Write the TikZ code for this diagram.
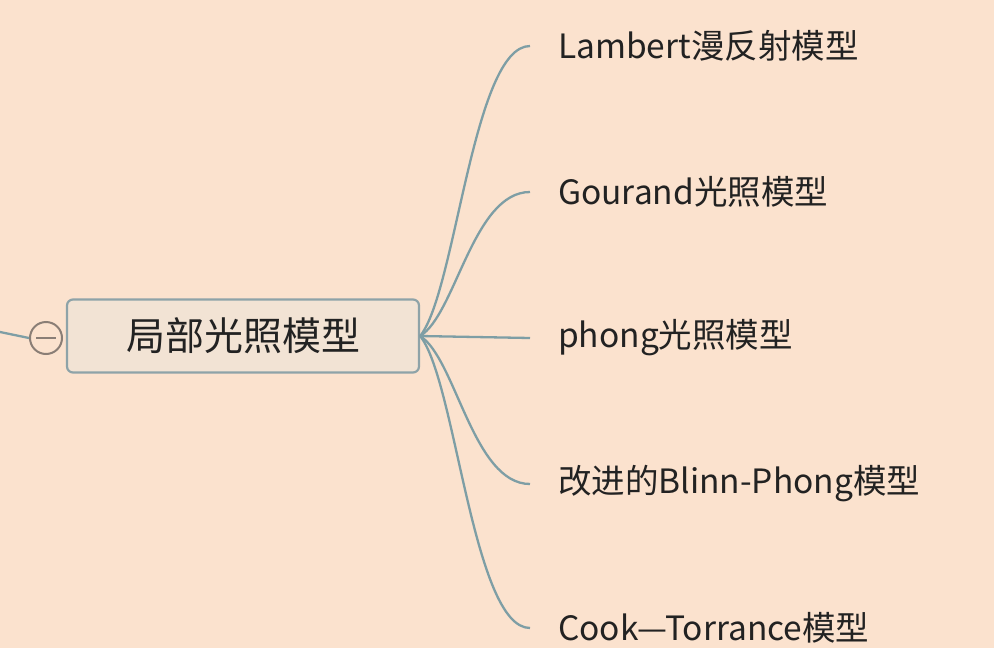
\documentclass[tikz,border=0pt]{standalone}
\usepackage{fontspec}
\usetikzlibrary{calc}
\setmainfont{Noto Sans CJK SC}
\definecolor{bg}{HTML}{FBE2CE}
\definecolor{rootfill}{HTML}{F2E3D4}
\definecolor{rootdraw}{HTML}{8EA3A8}
\definecolor{link}{HTML}{7E9EA5}
\definecolor{circ}{HTML}{8A7E76}
\definecolor{txt}{HTML}{222222}
\tikzset{
  rootbox/.style={draw=rootdraw, line width=2.2pt, fill=rootfill, rounded corners=6pt,
    minimum width=352pt, minimum height=73pt, inner sep=0pt,
    font=\fontsize{39}{44}\selectfont, text=txt},
  leaf/.style={anchor=west, inner sep=0pt, font=\fontsize{33.5}{38}\selectfont, text=txt},
  conn/.style={draw=link, line width=2.3pt},
}
\begin{document}
\begin{tikzpicture}[x=1pt,y=-1pt]
\fill[bg] (0,0) rectangle (994,648);
\useasboundingbox (0,0) rectangle (994,648);
\node[rootbox] (root) at (243,336) {局部光照模型};
\node[draw=circ, line width=2pt, circle, minimum size=32pt, inner sep=0pt, fill=bg] (col) at (46,338) {};
\draw[circ, line width=2pt] ([xshift=-10pt]col.center) -- ([xshift=10pt]col.center);
\coordinate (lft) at (0,332);
\draw[conn] (lft) -- (col.west);
\node[leaf] (c1) at (558,46) {Lambert漫反射模型};
\node[leaf] (c2) at (558,192) {Gourand光照模型};
\node[leaf] (c3) at (558,338) {phong光照模型};
\node[leaf] (c4) at (558,484) {改进的Blinn-Phong模型};
\node[leaf] (c5) at (558,628) {Cook—Torrance模型};
\coordinate (s) at (root.east);
\foreach \c in {c1,c2,c4,c5}{
  \draw[conn] (s) .. controls ($(s)!0.15!(\c.west)+(15,0)$) and ([xshift=-85pt]\c.west) .. ([xshift=-28pt]\c.west);
}
\draw[conn] (s) -- ([xshift=-28pt]c3.west);
\end{tikzpicture}
\end{document}
